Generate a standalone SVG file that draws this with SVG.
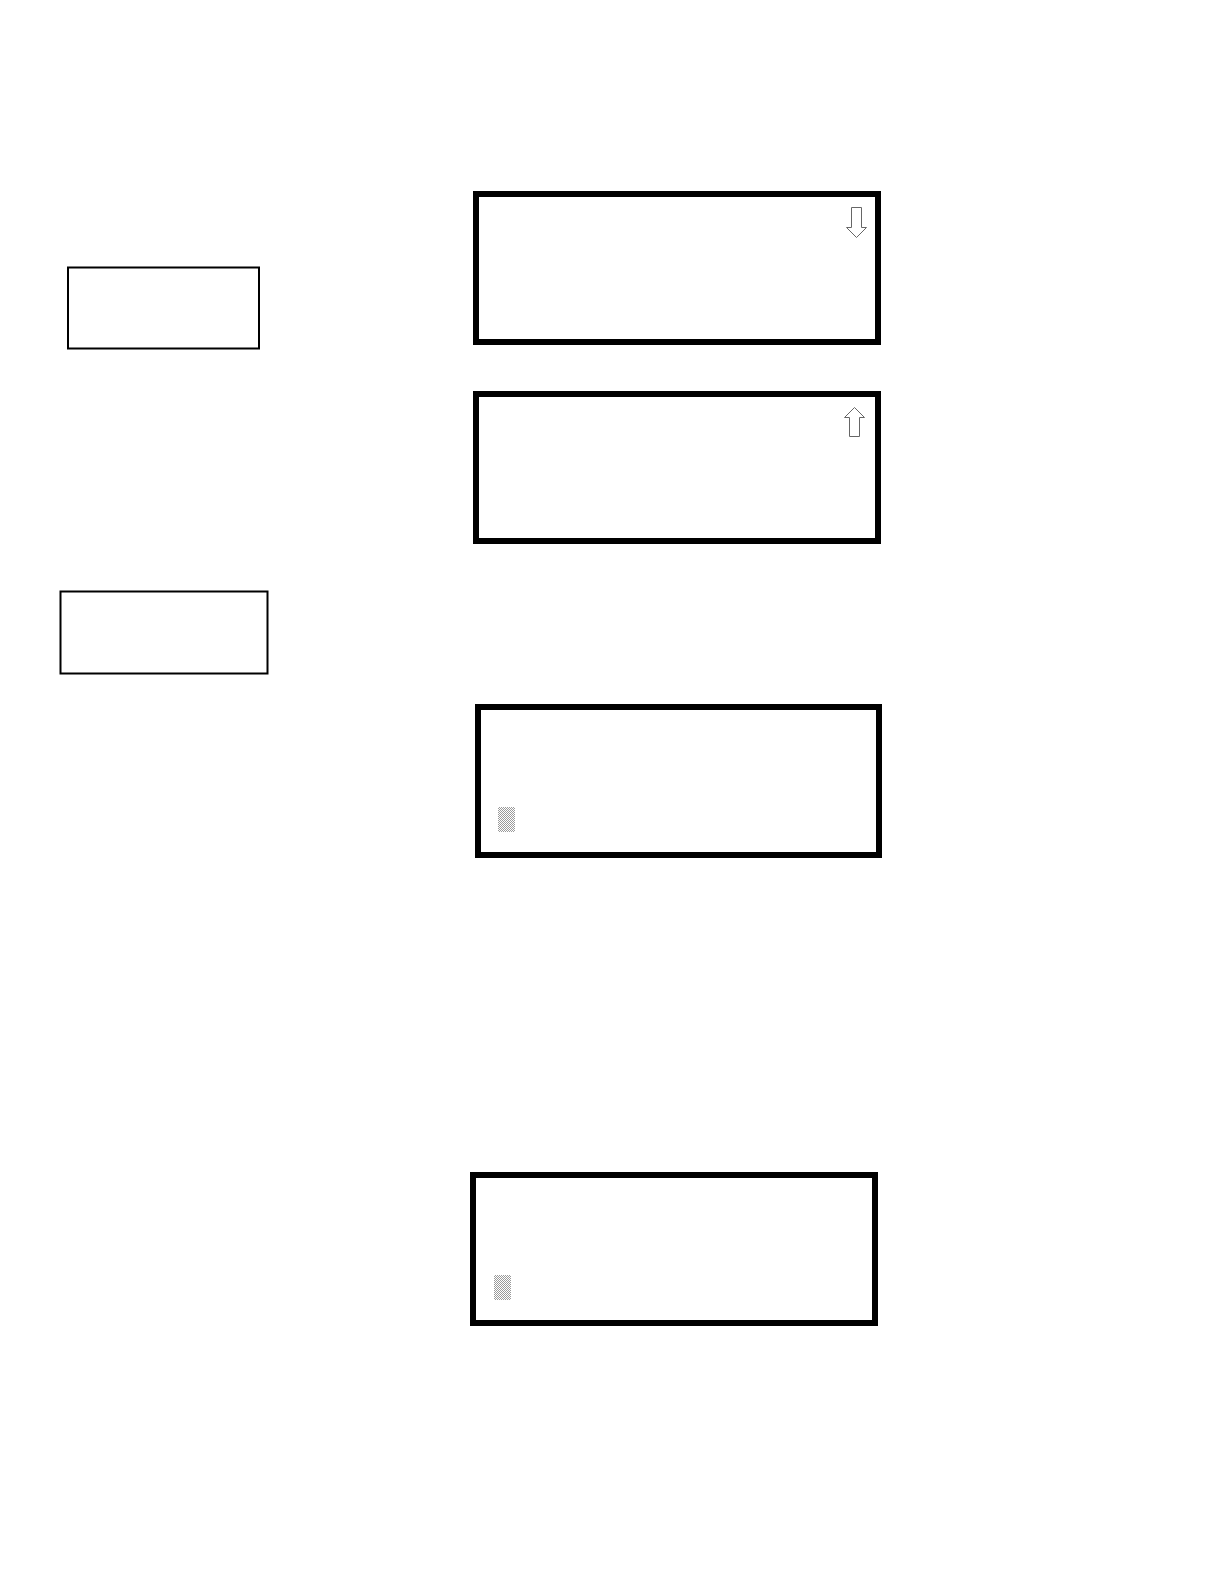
<svg xmlns="http://www.w3.org/2000/svg" width="1224" height="1584" viewBox="0 0 1224 1584">
  <style>
    .screen { fill: #ffffff; stroke: #000000; stroke-width: 6; }
    .key { fill: #ffffff; stroke: #000000; stroke-width: 2; }
    .scroll { fill: #ffffff; stroke: #666666; stroke-width: 1; stroke-linejoin: miter; }
    .cursor { fill: url(#checker); }
  </style>
  <defs>
    <pattern id="checker" x="0" y="0" width="2" height="2" patternUnits="userSpaceOnUse">
      <rect x="0" y="0" width="2" height="2" fill="#ffffff"/>
      <rect x="0" y="0" width="1" height="1" fill="#9a9a9a"/>
      <rect x="1" y="1" width="1" height="1" fill="#9a9a9a"/>
    </pattern>
  </defs>
  <rect x="0" y="0" width="1224" height="1584" fill="#ffffff"/>

  <g id="key-1">
    <rect class="key" x="68" y="267.5" width="191" height="81"/>
  </g>
  <g id="key-2">
    <rect class="key" x="60.5" y="591.5" width="207" height="82"/>
  </g>

  <g id="screen-1">
    <rect class="screen" x="476" y="194" width="402" height="148"/>
    <path class="scroll" d="M851.5 207.5 H861.5 V227.5 H866.5 L856.5 237.5 L846.5 227.5 H851.5 Z"/>
  </g>
  <g id="screen-2">
    <rect class="screen" x="476" y="394" width="402" height="147"/>
    <path class="scroll" d="M849.5 436.5 H859.5 V417.5 H864.5 L854.5 407.5 L844.5 417.5 H849.5 Z"/>
  </g>
  <g id="screen-3">
    <rect class="screen" x="478" y="707" width="401" height="148"/>
    <rect class="cursor" x="498" y="807" width="17" height="25"/>
  </g>
  <g id="screen-4">
    <rect class="screen" x="473" y="1175" width="402" height="148"/>
    <rect class="cursor" x="494" y="1275" width="17" height="25"/>
  </g>

  <g id="connectors"></g>
</svg>
